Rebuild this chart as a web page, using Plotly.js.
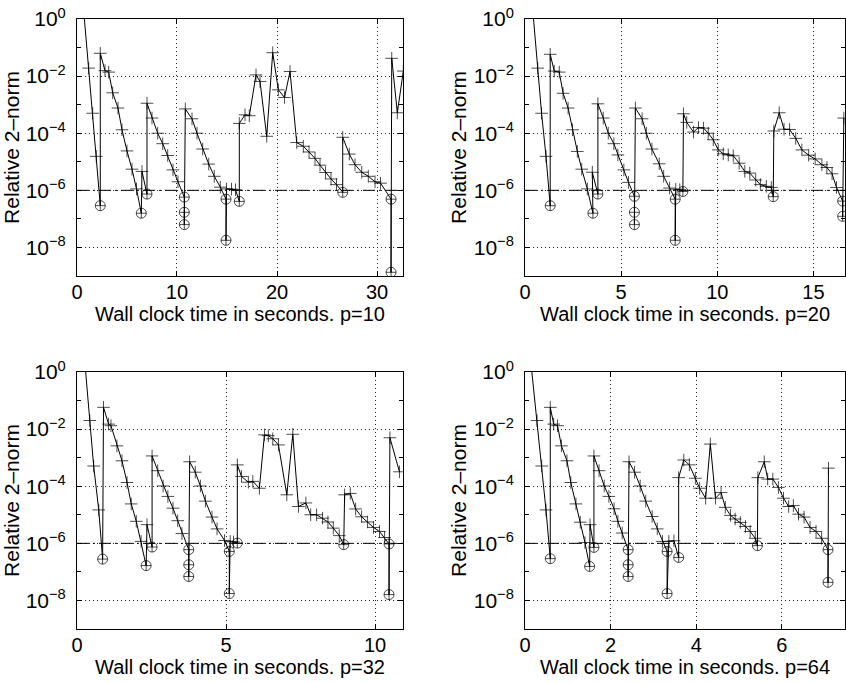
<!DOCTYPE html>
<html>
<head>
<meta charset="utf-8">
<script src="https://cdn.plot.ly/plotly-3.0.1.min.js"></script>
<style>
  html, body { margin: 0; padding: 0; background: #fff; }
  #chart { width: 846px; height: 683px; }
</style>
</head>
<body>
<div id="chart"></div>
<script>
// Residual history of the restarted solver for four processor counts.
// t = wall clock time (s), r = relative 2-norm, k = point kind:
// '+' = iterate, 'o' = checked (true) residual.

// p = 10
const t10 = [0.35, 1.17, 1.57, 1.93, 2.33, 2.33, 2.80, 3.17, 3.57, 4.10, 4.50, 5.00, 5.50, 5.95, 6.43, 6.50, 7.00, 7.00,
  7.50, 8.07, 8.57, 9.07, 9.60, 10.10, 10.73, 10.73, 10.73, 10.83, 11.50, 12.00, 12.57, 13.17, 13.73, 14.33, 14.90, 14.90,
  14.95, 15.45, 15.85, 16.23, 16.23, 16.80, 17.23, 17.90, 18.30, 18.97, 19.57, 20.13, 20.75, 21.30, 21.97, 22.63, 23.20,
  23.80, 24.30, 24.85, 25.40, 25.95, 26.57, 26.57, 27.23, 27.80, 28.47, 29.13, 29.80, 30.35, 31.40, 31.40, 31.47, 32.03, 32.63];
const r10 = [40, 1.9e-2, 5.0e-4, 1.55e-5, 2.9e-7, 6.3e-2, 1.55e-2, 1.38e-2, 2.6e-3, 7.6e-4, 1.32e-4, 2.4e-5, 5.5e-6, 1.12e-6, 1.58e-7, 4.6e-6, 7.4e-7, 1.12e-3,
  3.4e-4, 1.0e-4, 4.3e-5, 1.66e-5, 5.2e-6, 2.0e-6, 5.8e-7, 1.7e-7, 6.3e-8, 7.1e-4, 3.2e-4, 1.0e-4, 2.8e-5, 8.3e-6, 3.1e-6, 1.29e-6, 4.9e-7, 1.78e-8,
  1.12e-6, 1.1e-6, 1.05e-6, 4.1e-7, 2.2e-4, 4.4e-4, 4.1e-4, 1.1e-2, 6.5e-3, 7.8e-5, 6.6e-2, 3.3e-3, 1.78e-3, 1.45e-2, 4.7e-5, 3.5e-5, 2.2e-5,
  1.32e-5, 7.6e-6, 4.2e-6, 2.5e-6, 1.58e-6, 8.5e-7, 7.2e-5, 1.86e-5, 7.9e-6, 4.3e-6, 3.1e-6, 2.0e-6, 1.78e-6, 4.9e-7, 1.35e-9, 4.2e-2, 5.2e-4, 1.5e-2];
const k10 = ['+', '+', '+', '+', 'o', '+', '+', '+', '+', '+', '+', '+', '+', '+', 'o', '+', 'o', '+',
  '+', '+', '+', '+', '+', '+', 'o', 'o', 'o', '+', '+', '+', '+', '+', '+', '+', 'o', 'o',
  '+', '+', '+', 'o', '+', '+', '+', '+', '+', '+', '+', '+', '+', '+', '+', '+', '+',
  '+', '+', '+', '+', '+', 'o', '+', '+', '+', '+', '+', '+', '+', 'o', 'o', '+', '+', '+'];

// p = 20
const t20 = [0.24, 0.66, 0.86, 1.09, 1.31, 1.31, 1.52, 1.78, 1.98, 2.24, 2.47, 2.72, 2.95, 3.24, 3.53, 3.50, 3.79, 3.79,
  4.07, 4.33, 4.62, 4.83, 5.14, 5.38, 5.69, 5.69, 5.69, 5.74, 6.09, 6.31, 6.60, 6.98, 7.21, 7.52, 7.81, 7.81, 7.84, 8.05,
  8.21, 8.24, 8.41, 8.76, 9.02, 9.28, 9.53, 9.79, 10.05, 10.31, 10.57, 10.83, 11.14, 11.43, 11.69, 12.00, 12.24, 12.55,
  12.81, 12.91, 12.94, 13.22, 13.47, 13.76, 14.08, 14.40, 14.75, 15.09, 15.44, 15.70, 15.97, 16.20, 16.52, 16.52, 16.58];
const r20 = [40, 1.9e-2, 5.0e-4, 1.55e-5, 2.9e-7, 5.8e-2, 1.5e-2, 1.38e-2, 2.5e-3, 7.6e-4, 1.32e-4, 2.3e-5, 5.5e-6, 1.12e-6, 1.58e-7, 4.3e-6, 7.4e-7, 1.07e-3,
  3.4e-4, 1.0e-4, 4.3e-5, 1.74e-5, 5.2e-6, 1.9e-6, 6.2e-7, 1.7e-7, 6.3e-8, 7.6e-4, 3.2e-4, 1.0e-4, 2.8e-5, 8.5e-6, 3.1e-6, 1.2e-6, 4.9e-7, 1.78e-8, 1.1e-6, 1.05e-6,
  9.1e-7, 4.8e-4, 2.4e-4, 1.1e-4, 1.58e-4, 1.5e-4, 1.0e-4, 5.9e-5, 2.6e-5, 1.9e-5, 1.74e-5, 1.62e-5, 8.9e-6, 4.6e-6, 4.0e-6, 2.3e-6, 1.58e-6, 1.38e-6,
  1.26e-6, 6.0e-7, 1.2e-4, 5.2e-4, 1.38e-4, 1.35e-4, 6.6e-5, 2.6e-5, 1.7e-5, 1.26e-5, 7.9e-6, 6.3e-6, 3.8e-6, 1.26e-6, 4.2e-7, 1.23e-7, 3.4e-4];
const k20 = ['+', '+', '+', '+', 'o', '+', '+', '+', '+', '+', '+', '+', '+', '+', 'o', '+', 'o', '+',
  '+', '+', '+', '+', '+', '+', 'o', 'o', 'o', '+', '+', '+', '+', '+', '+', '+', 'o', 'o', '+', '+',
  'o', '+', '+', '+', '+', '+', '+', '+', '+', '+', '+', '+', '+', '+', '+', '+', '+', '+',
  '+', 'o', '+', '+', '+', '+', '+', '+', '+', '+', '+', '+', '+', '+', 'o', 'o', '+'];

// p = 32
const t32 = [0.16, 0.43, 0.56, 0.73, 0.86, 0.89, 1.06, 1.14, 1.34, 1.51, 1.68, 1.82, 1.99, 2.15, 2.32, 2.35, 2.52, 2.52,
  2.71, 2.89, 3.05, 3.22, 3.38, 3.52, 3.75, 3.75, 3.75, 3.78, 3.97, 4.14, 4.31, 4.53, 4.70, 4.95, 5.11, 5.11, 5.14, 5.25,
  5.38, 5.38, 5.52, 5.75, 5.90, 6.12, 6.29, 6.42, 6.57, 6.76, 7.04, 7.24, 7.43, 7.68, 7.84, 8.04, 8.24, 8.42, 8.60, 8.80,
  8.95, 8.98, 9.17, 9.35, 9.55, 9.75, 9.95, 10.15, 10.32, 10.47, 10.47, 10.50, 10.82];
const r32 = [40, 2.0e-2, 5.1e-4, 1.48e-5, 2.8e-7, 5.8e-2, 1.5e-2, 1.32e-2, 2.6e-3, 7.8e-4, 1.35e-4, 2.4e-5, 5.9e-6, 1.17e-6, 1.66e-7, 4.5e-6, 7.4e-7, 1.15e-3,
  3.5e-4, 1.02e-4, 4.4e-5, 1.7e-5, 6.2e-6, 2.2e-6, 6.0e-7, 1.78e-7, 6.9e-8, 7.2e-4, 3.1e-4, 1.02e-4, 3.0e-5, 8.3e-6, 3.2e-6, 1.26e-6, 5.2e-7, 1.74e-8, 1.17e-6, 1.12e-6,
  1.02e-6, 5.6e-4, 2.2e-4, 1.38e-4, 1.48e-4, 8.5e-5, 6.3e-3, 5.9e-3, 4.6e-3, 2.8e-3, 5.0e-5, 6.6e-3, 1.95e-5, 2.6e-5, 1.0e-5, 1.0e-5, 7.6e-6, 5.6e-6, 3.4e-6, 1.86e-6,
  9.0e-7, 5.0e-5, 5.6e-5, 1.6e-5, 8.5e-6, 5.6e-6, 3.6e-6, 2.6e-6, 1.6e-6, 9.5e-7, 1.6e-8, 5.0e-3, 3.2e-4];
const k32 = ['+', '+', '+', '+', 'o', '+', '+', '+', '+', '+', '+', '+', '+', '+', 'o', '+', 'o', '+',
  '+', '+', '+', '+', '+', '+', 'o', 'o', 'o', '+', '+', '+', '+', '+', '+', '+', 'o', 'o', '+', '+',
  'o', '+', '+', '+', '+', '+', '+', '+', '+', '+', '+', '+', '+', '+', '+', '+', '+', '+', '+', '+',
  'o', '+', '+', '+', '+', '+', '+', '+', '+', 'o', 'o', '+', '+'];

// p = 64
const t64 = [0.05, 0.28, 0.39, 0.49, 0.59, 0.59, 0.67, 0.76, 0.85, 0.98, 1.07, 1.19, 1.29, 1.40, 1.51, 1.52, 1.61, 1.61,
  1.73, 1.85, 1.96, 2.08, 2.17, 2.27, 2.41, 2.41, 2.41, 2.43, 2.56, 2.69, 2.82, 2.97, 3.09, 3.21, 3.32, 3.32, 3.36, 3.48,
  3.59, 3.59, 3.71, 3.84, 3.98, 4.08, 4.22, 4.33, 4.45, 4.58, 4.68, 4.80, 4.91, 5.03, 5.15, 5.26, 5.38, 5.43, 5.44,
  5.59, 5.67, 5.79, 5.92, 6.04, 6.16, 6.27, 6.39, 6.52, 6.66, 6.80, 6.93, 7.08, 7.08, 7.09];
const r64 = [40, 2.0e-2, 5.1e-4, 1.48e-5, 2.9e-7, 5.8e-2, 1.5e-2, 1.32e-2, 2.6e-3, 7.8e-4, 1.35e-4, 2.4e-5, 5.5e-6, 1.07e-6, 1.55e-7, 4.5e-6, 7.2e-7, 1.15e-3,
  3.5e-4, 1.02e-4, 4.4e-5, 1.62e-5, 5.9e-6, 2.3e-6, 6.0e-7, 1.78e-7, 6.9e-8, 7.2e-4, 3.1e-4, 1.02e-4, 3.0e-5, 8.7e-6, 3.2e-6, 1.17e-6, 5.2e-7, 1.74e-8, 1.17e-6, 1.23e-6,
  3.2e-7, 2.0e-4, 8.3e-4, 5.6e-4, 1.9e-4, 8.5e-5, 3.8e-5, 3.0e-3, 3.8e-5, 6.0e-5, 1.82e-5, 9.5e-6, 7.1e-6, 5.4e-6, 3.9e-6, 2.6e-6, 1.5e-6, 8.3e-7, 2.0e-4,
  7.2e-4, 1.78e-4, 1.78e-4, 9.1e-5, 3.8e-5, 1.95e-5, 2.1e-5, 1.05e-5, 8.3e-6, 3.6e-6, 2.6e-6, 1.5e-6, 6.0e-7, 4.3e-8, 4.3e-4];
const k64 = ['+', '+', '+', '+', 'o', '+', '+', '+', '+', '+', '+', '+', '+', '+', 'o', '+', 'o', '+',
  '+', '+', '+', '+', '+', '+', 'o', 'o', 'o', '+', '+', '+', '+', '+', '+', '+', 'o', 'o', '+', '+',
  'o', '+', '+', '+', '+', '+', '+', '+', '+', '+', '+', '+', '+', '+', '+', '+', '+', 'o', '+',
  '+', '+', '+', '+', '+', '+', '+', '+', '+', '+', '+', '+', 'o', 'o', '+'];

// Convergence tolerance drawn as the dash-dot reference line
const tol = 1e-6;

// Axis ticks
const yTickVals = [1, 1e-2, 1e-4, 1e-6, 1e-8];
const yTickText = ['10<sup>0</sup>', '10<sup>\u22122</sup>', '10<sup>\u22124</sup>', '10<sup>\u22126</sup>', '10<sup>\u22128</sup>'];
const yMinorVals = [1e-1, 1e-3, 1e-5, 1e-7];

const panels = [
  { t: t10, r: r10, k: k10, p: 10, xmax: 32.6,  dtick: 10, ax: '',  dx: [0.0910, 0.4764], dy: [0.5959, 0.9722] },
  { t: t20, r: r20, k: k20, p: 20, xmax: 16.65, dtick: 5,  ax: '2', dx: [0.6206, 0.9990], dy: [0.5959, 0.9722] },
  { t: t32, r: r32, k: k32, p: 32, xmax: 10.94, dtick: 5,  ax: '3', dx: [0.0910, 0.4764], dy: [0.0791, 0.4553] },
  { t: t64, r: r64, k: k64, p: 64, xmax: 7.48,  dtick: 2,  ax: '4', dx: [0.6206, 0.9990], dy: [0.0791, 0.4553] }
];

const FONT = 'Liberation Sans, Arial, Helvetica, sans-serif';
const symbolOf = { '+': 'cross-thin-open', 'o': 'circle-cross-open' };
const sizeOf = { '+': 9, 'o': 10 };

const traces = [];
const layout = {
  width: 846, height: 683,
  margin: { l: 0, r: 0, t: 0, b: 0 },
  paper_bgcolor: '#fff', plot_bgcolor: '#fff',
  showlegend: false,
  font: { family: FONT, size: 20, color: '#000' }
};

panels.forEach(pn => {
  const xa = 'x' + pn.ax, ya = 'y' + pn.ax;

  traces.push({
    type: 'scatter', mode: 'lines',
    x: [0, pn.xmax], y: [tol, tol],
    xaxis: xa, yaxis: ya,
    line: { color: '#000', width: 1, dash: '12px,4px,2px,4px' },
    hoverinfo: 'skip'
  });

  traces.push({
    type: 'scatter', mode: 'lines+markers',
    x: pn.t, y: pn.r,
    xaxis: xa, yaxis: ya,
    line: { color: '#000', width: 1 },
    marker: {
      symbol: pn.k.map(c => symbolOf[c]),
      size: pn.k.map(c => sizeOf[c]),
      color: '#000',
      line: { color: '#000', width: 1 }
    }
  });

  layout['xaxis' + pn.ax] = {
    domain: pn.dx, anchor: ya,
    range: [0, pn.xmax], dtick: pn.dtick, tick0: 0,
    showline: true, linecolor: '#000', linewidth: 1, mirror: 'ticks',
    ticks: 'inside', ticklen: 5, tickcolor: '#000',
    showgrid: true, gridcolor: '#222', griddash: '1px,3px', gridwidth: 1,
    zeroline: false,
    tickfont: { family: FONT, size: 20, color: '#000' },
    ticklabelstandoff: -2,
    title: { text: 'Wall clock time in seconds. p=' + pn.p, font: { family: FONT, size: 20, color: '#000' }, standoff: 0 }
  };

  layout['yaxis' + pn.ax] = {
    domain: pn.dy, anchor: xa,
    type: 'log', range: [-9, 0],
    tickmode: 'array', tickvals: yTickVals, ticktext: yTickText,
    showline: true, linecolor: '#000', linewidth: 1, mirror: 'ticks',
    ticks: 'inside', ticklen: 5, tickcolor: '#000',
    minor: { tickmode: 'array', tickvals: yMinorVals, ticks: 'inside', ticklen: 4, tickcolor: '#000', showgrid: false },
    showgrid: true, gridcolor: '#222', griddash: '1px,3px', gridwidth: 1,
    zeroline: false,
    tickfont: { family: FONT, size: 21, color: '#000' },
    ticklabelstandoff: 6,
    title: { text: 'Relative 2\u2013norm', font: { family: FONT, size: 21, color: '#000' }, standoff: 1 }
  };
});

Plotly.newPlot('chart', traces, layout, { staticPlot: true });
</script>
</body>
</html>
